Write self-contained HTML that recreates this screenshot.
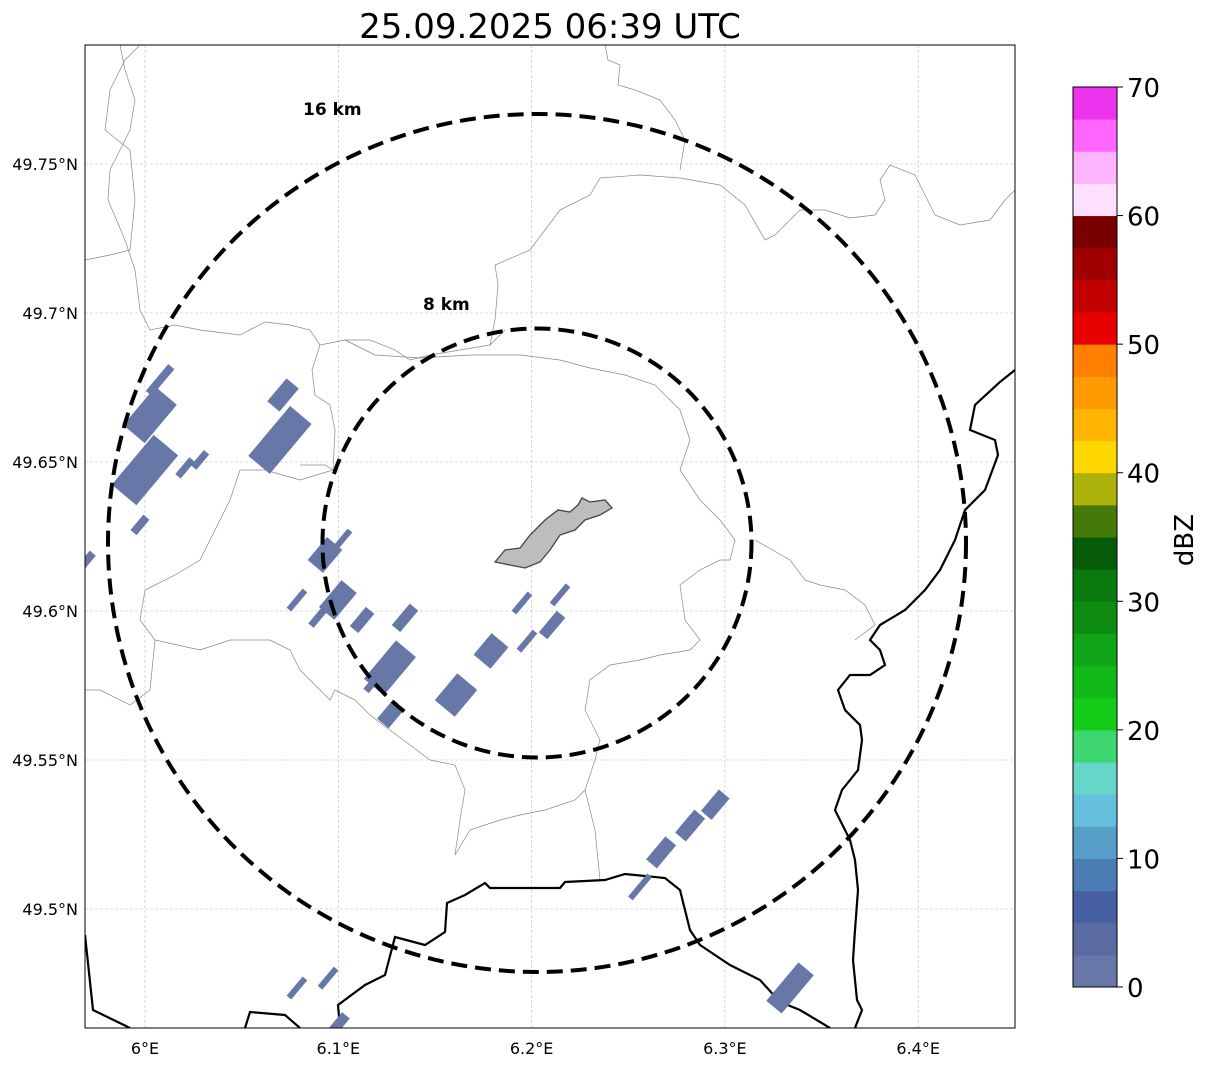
<!DOCTYPE html>
<html><head><meta charset="utf-8"><style>
body{margin:0;background:#fff;font-family:"DejaVu Sans",sans-serif}
svg text{font-family:"DejaVu Sans","Liberation Sans",sans-serif}
</style></head><body>
<svg width="1207" height="1064" xmlns="http://www.w3.org/2000/svg">
<text x="550" y="38" font-size="34" text-anchor="middle">25.09.2025 06:39 UTC</text>
<defs><clipPath id="mc"><rect x="85" y="45" width="930" height="983"/></clipPath></defs>
<g id="map" clip-path="url(#mc)"></g>
<rect x="85" y="45" width="930" height="983" fill="none" stroke="#000" stroke-width="1"/>
<g id="axes"></g>
<g id="cbar"></g>
</svg>
<script>
const lonTicks=[6.0,6.1,6.2,6.3,6.4];
const lonLabels=["6°E","6.1°E","6.2°E","6.3°E","6.4°E"];
const latTicks=[49.75,49.7,49.65,49.6,49.55,49.5];
const latLabels=["49.75°N","49.7°N","49.65°N","49.6°N","49.55°N","49.5°N"];
const echoLon=[6.000,6.0026,6.0078,5.9974,6.0207,6.0285,6.0714,6.0698,5.970,6.0931,6.1019,6.0786,6.0998,6.1123,6.0905,6.1345,6.1267,6.119,6.1267,6.1609,6.179,6.195,6.2147,6.2106,6.1976,6.2670,6.2820,6.2950,6.2561,6.3337,6.0786,6.0947,6.0998];
const echoLat=[49.6473,49.6658,49.6775,49.6289,49.648,49.6507,49.6725,49.6574,49.6171,49.6188,49.6238,49.6037,49.6037,49.597,49.5987,49.5977,49.5809,49.5768,49.5651,49.5718,49.5866,49.6027,49.6054,49.5953,49.5899,49.5190,49.5280,49.5350,49.5074,49.4735,49.4735,49.4768,49.4611];
const echoLen=[65,50,35,20,22,20,30,65,18,30,25,25,35,25,28,28,50,28,22,35,28,25,25,28,25,30,30,28,30,50,25,25,25];
const echoWid=[32,28,8,8,7,7,16,28,8,20,6,6,20,11,7,11,26,7,15,26,22,6,6,11,6,14,14,14,6,20,6,6,10];
const cbLevels=[0,2.5,5,7.5,10,12.5,15,17.5,20,22.5,25,27.5,30,32.5,35,37.5,40,42.5,45,47.5,50,52.5,55,57.5,60,62.5,65,67.5];
const cbColors=["#6677a8","#5a6ba3","#4660a3","#4b7db4","#579fc8","#66c0dd","#66d6c8","#3dd670","#12cc18","#10b818","#10a418","#0e8c12","#0a7a0e","#065a08","#467a08","#acb20a","#ffd700","#ffb400","#ff9b00","#ff7f00","#e80000","#c20000","#a00000","#7a0000","#ffe0ff","#ffb4ff","#ff66ff","#ee33ee"];
const cbTicks=[0,10,20,30,40,50,60,70];
const NS="http://www.w3.org/2000/svg";
const X=lon=>145+(lon-6)*1933, Y=lat=>164-(lat-49.75)*2980;
const CY=v=>987-v*900/70;
function mk(t,a,p){const e=document.createElementNS(NS,t);for(const k in a)e.setAttribute(k,a[k]);p.appendChild(e);return e;}
const map=document.getElementById('map'),ax=document.getElementById('axes'),cb=document.getElementById('cbar');
lonTicks.forEach((v,i)=>{
 const g=mk('line',{x1:X(v),x2:X(v),y1:45,y2:1028,stroke:'#bbb','stroke-width':0.6,'stroke-dasharray':'3,2'},map);
 
 const t=mk('text',{x:X(v),y:1054,'font-size':16,'text-anchor':'middle'},ax);t.textContent=lonLabels[i];
 
});
latTicks.forEach((v,i)=>{
 const g=mk('line',{x1:85,x2:1015,y1:Y(v),y2:Y(v),stroke:'#bbb','stroke-width':0.6,'stroke-dasharray':'3,2'},map);
 
 const t=mk('text',{x:78,y:Y(v)+6,'font-size':16,'text-anchor':'end'},ax);t.textContent=latLabels[i];
 
});
const thin=[
"85,260 110,255 130,250 135,200 130,150 105,130 110,90 125,60 140,45",
"120,45 125,70 135,100 130,130 120,150 110,170 108,200 125,240 135,270 140,310 150,330 175,325 200,330 240,335 265,322 290,325 310,330 320,345 345,340 370,340 395,350 410,360 430,355 460,350 490,345 505,330",
"490,345 495,320 498,285 495,265 530,250 545,230 560,210 590,195 600,178 640,175 680,178 720,185 745,205 765,240 775,235 800,210 825,210 850,218 875,215 885,200 880,180 890,165 915,175 935,215 960,225 990,220 1005,200 1015,190",
"605,45 608,60 620,65 618,85 635,90 660,100 675,120 685,140 680,170",
"320,345 312,370 315,395 330,405 335,430 333,470 325,465 300,465",
"333,470 300,480 265,470 240,470 230,500 210,540 200,560 175,575 145,590 140,620 155,640 150,690 130,705 100,690 85,690",
"345,340 375,355 420,358 470,355 520,355 560,360 590,368 625,375 655,385 680,410 690,440 680,470 700,500 720,520 735,540 730,560 720,560 700,570 680,585 685,620 700,640 690,650 660,655 640,660 610,665 590,680 585,710 600,740 595,760 585,790 575,800 545,810 520,815 500,820 470,830 455,855",
"585,790 595,830 600,880",
"755,540 790,560 805,580 820,585 845,590 865,605 875,625 855,640",
"155,640 200,650 230,640 270,640 290,650 300,670 320,690 330,700 335,690 355,700 370,715 390,730 410,745 430,760 455,765 465,790 460,820 455,855"];
thin.forEach(p=>{const e=mk('polyline',{points:p,fill:'none',stroke:'#888','stroke-width':0.7},map);
 });
const thick=["1015,370 1000,382 975,405 970,430 995,440 998,455 985,490 965,510 955,540 940,570 925,590 905,610 880,625 870,640 880,650 885,665 870,675 850,675 838,690 845,710 860,725 862,740 858,770 842,790 835,810 850,840 855,860 858,890 855,930 853,960 857,1000 862,1010 855,1028",
"85,935 93,1010 130,1028",
"245,1028 250,1012 285,1015 300,1028",
"340,1028 338,1005 365,985 385,975 395,937 425,945 445,932 447,903 465,895 485,883 490,888 560,888 565,882 605,880 625,874 665,878 680,890 690,930 700,945 730,965 760,980 780,1002 800,1010 830,1028"];
thick.forEach(p=>{const e=mk('polyline',{points:p,fill:'none',stroke:'#000','stroke-width':2.2},map);
 });
echoLon.forEach((lo,i)=>{const cx=X(lo),cy=Y(echoLat[i]),L=echoLen[i],W=echoWid[i];
 const r=mk('rect',{x:cx-L/2,y:cy-W/2,width:L,height:W,fill:'#6677a8',transform:`rotate(-50 ${cx} ${cy})`},map);
 });
const ap=mk('polygon',{points:"495,562 505,550 520,548 530,535 545,520 558,510 570,512 578,505 582,498 590,502 605,500 612,508 600,515 585,520 575,530 560,535 550,550 540,562 525,568 510,565",fill:'#bdbdbd',stroke:'#444','stroke-width':1.3},map);

const c1=mk('ellipse',{cx:537,cy:543,rx:429,ry:429,fill:'none',stroke:'#000','stroke-width':4,'stroke-dasharray':'16,8'},map);

const c2=mk('ellipse',{cx:537,cy:543,rx:214.5,ry:214.5,fill:'none',stroke:'#000','stroke-width':4,'stroke-dasharray':'16,8'},map);

const l1=mk('text',{x:303,y:115,'font-size':17,'font-weight':'bold'},map);l1.textContent='16 km';

const l2=mk('text',{x:423,y:310,'font-size':17,'font-weight':'bold'},map);l2.textContent='8 km';

cbLevels.forEach((v,i)=>{const y2=CY(v),y1=CY(v+2.5);
 const r=mk('rect',{x:1073,y:y1,width:44,height:y2-y1+0.5,fill:cbColors[i]},cb);
 });
mk('rect',{x:1073,y:87,width:44,height:900,fill:'none',stroke:'#000','stroke-width':1},cb);
cbTicks.forEach(v=>{mk('line',{x1:1117,x2:1123,y1:CY(v),y2:CY(v),stroke:'#000'},cb);
 const t=mk('text',{x:1127,y:CY(v)+10,'font-size':26},cb);t.textContent=v;
 });
const cl=mk('text',{x:1193,y:540,'font-size':26,'text-anchor':'middle',transform:'rotate(-90 1193 540)'},cb);cl.textContent='dBZ';

</script>
</body></html>
